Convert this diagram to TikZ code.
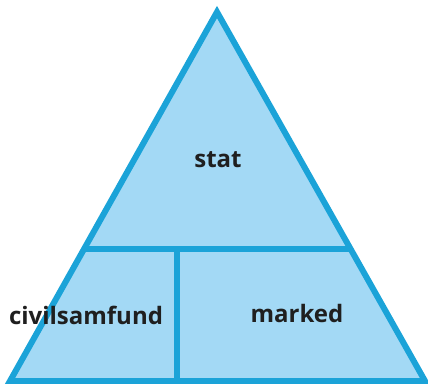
\documentclass[tikz,border=0pt]{standalone}
\usepackage{fontspec}
\setmainfont{Open Sans}
\definecolor{edge}{HTML}{1BA3D8}
\definecolor{fillb}{HTML}{A3D9F5}
\tikzset{
  part/.style={fill=fillb},
  outline/.style={draw=edge, line width=6pt, line join=miter},
  divider/.style={draw=edge, line width=6pt},
  lbl/.style={font=\fontsize{24}{28}\selectfont\bfseries, text=black!88, inner sep=0pt}
}
\begin{document}
\begin{tikzpicture}[x=1pt,y=1pt]
\useasboundingbox (0,0) rectangle (428,383);
\coordinate (apex) at (217,371);
\coordinate (bl) at (10,2);
\coordinate (br) at (425,2);
\fill[part] (apex) -- (bl) -- (br) -- cycle;
\begin{scope}
\clip (apex) -- (bl) -- (br) -- cycle;
\coordinate (hl) at (0,134);
\coordinate (hr) at (428,134);
\coordinate (vt) at (177,134);
\coordinate (vb) at (177,0);
\draw[divider] (hl) -- (hr);
\draw[divider] (vt) -- (vb);
\end{scope}
\draw[outline] (apex) -- (bl) -- (br) -- cycle;
\node[lbl] (stat) at (218,223) {stat};
\node[lbl] (civ) at (86,68) {civilsamfund};
\node[lbl] (mark) at (297,70) {marked};
\end{tikzpicture}
\end{document}
